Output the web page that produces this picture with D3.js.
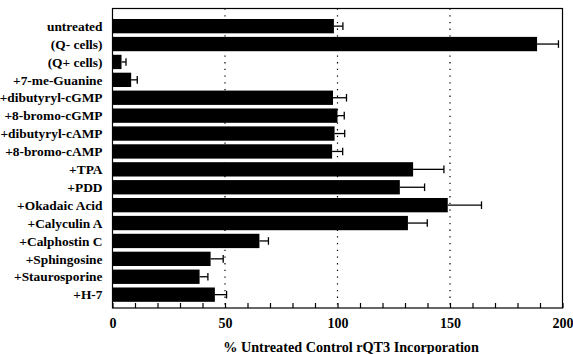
<!DOCTYPE html>
<html>
<head>
<meta charset="utf-8">
<script src="https://cdn.jsdelivr.net/npm/d3@7"></script>
<style>
  body { margin: 0; background: #fff; }
  svg { display: block; }
  text { font-family: "Liberation Serif", "Times New Roman", serif; font-weight: bold; fill: #000; }
</style>
</head>
<body>
<svg id="chart" width="573" height="354"></svg>
<script>
const categories = ["untreated", "(Q- cells)", "(Q+ cells)", "+7-me-Guanine", "+dibutyryl-cGMP",
  "+8-bromo-cGMP", "+dibutyryl-cAMP", "+8-bromo-cAMP", "+TPA", "+PDD", "+Okadaic Acid",
  "+Calyculin A", "+Calphostin C", "+Sphingosine", "+Staurosporine", "+H-7"];
const values = [98.4, 188.7, 4, 8.3, 98, 100, 98.7, 97.6, 133.6, 127.7, 149, 131.3, 65.3, 43.6, 38.7, 45.5];
const errors = [4, 9.5, 2, 2.7, 6, 3, 4.5, 4.7, 13.7, 11, 15, 8.6, 4, 5.6, 3.7, 5.2];
const xTicks = [0, 50, 100, 150, 200];
const gridValues = [50, 100, 150];
const xTitle = "% Untreated Control rQT3 Incorporation";

(function () {
const svg = d3.select("#chart");
const pLeft = 112.5, pRight = 562.5, pTop = 8.5, pBottom = 308;

const x = d3.scaleLinear().domain([0, 200]).range([pLeft, pRight]);
const y = d3.scaleBand().domain(categories).range([17.2, 303.6]).paddingInner(0.2).paddingOuter(0.1);

// dotted grid lines
svg.append("g").selectAll("line").data(gridValues).join("line")
  .attr("x1", d => x(d)).attr("x2", d => x(d))
  .attr("y1", pTop).attr("y2", pBottom)
  .attr("stroke", "#000").attr("stroke-width", 1.2)
  .attr("stroke-dasharray", "1.3,5.4");

// bars
svg.append("g").selectAll("rect").data(categories).join("rect")
  .attr("x", x(0)).attr("y", d => y(d))
  .attr("width", (d, i) => x(values[i]) - x(0))
  .attr("height", y.bandwidth())
  .attr("fill", "#000");

// error bars
const eb = svg.append("g").attr("stroke", "#000").attr("stroke-width", 1.3);
categories.forEach((c, i) => {
  const cy = y(c) + y.bandwidth() / 2;
  const xe = x(values[i] + errors[i]);
  eb.append("line").attr("x1", x(values[i])).attr("x2", xe).attr("y1", cy).attr("y2", cy);
  eb.append("line").attr("x1", xe).attr("x2", xe).attr("y1", cy - 3.8).attr("y2", cy + 3.8);
});

// frame
svg.append("rect").attr("x", pLeft).attr("y", pTop).attr("width", pRight - pLeft).attr("height", pBottom - pTop)
  .attr("fill", "none").attr("stroke", "#000").attr("stroke-width", 1.2);

// x axis (ticks pointing inward)
const xAxis = d3.axisBottom(x).tickValues(d3.range(0, 201, 10)).tickSize(-5)
  .tickFormat(d => xTicks.includes(d) ? d : "");
const ga = svg.append("g").attr("transform", `translate(0,${pBottom})`).call(xAxis);
ga.select(".domain").remove();
ga.selectAll(".tick line").attr("stroke", "#000").attr("stroke-width", 1.2);
ga.selectAll(".tick text").attr("dy", null).attr("y", 20)
  .style("font-size", "14px").style("font-family", "Liberation Serif, serif").style("font-weight", "bold");

// category labels
svg.append("g").selectAll("text").data(categories).join("text")
  .attr("x", 102.5).attr("y", d => y(d) + y.bandwidth() / 2)
  .attr("dy", "0.35em").attr("text-anchor", "end")
  .style("font-size", "13.4px").text(d => d);

// x title
svg.append("text").attr("x", 351).attr("y", 352).attr("text-anchor", "middle")
  .style("font-size", "14.2px").text(xTitle);
})();
</script>
</body>
</html>
